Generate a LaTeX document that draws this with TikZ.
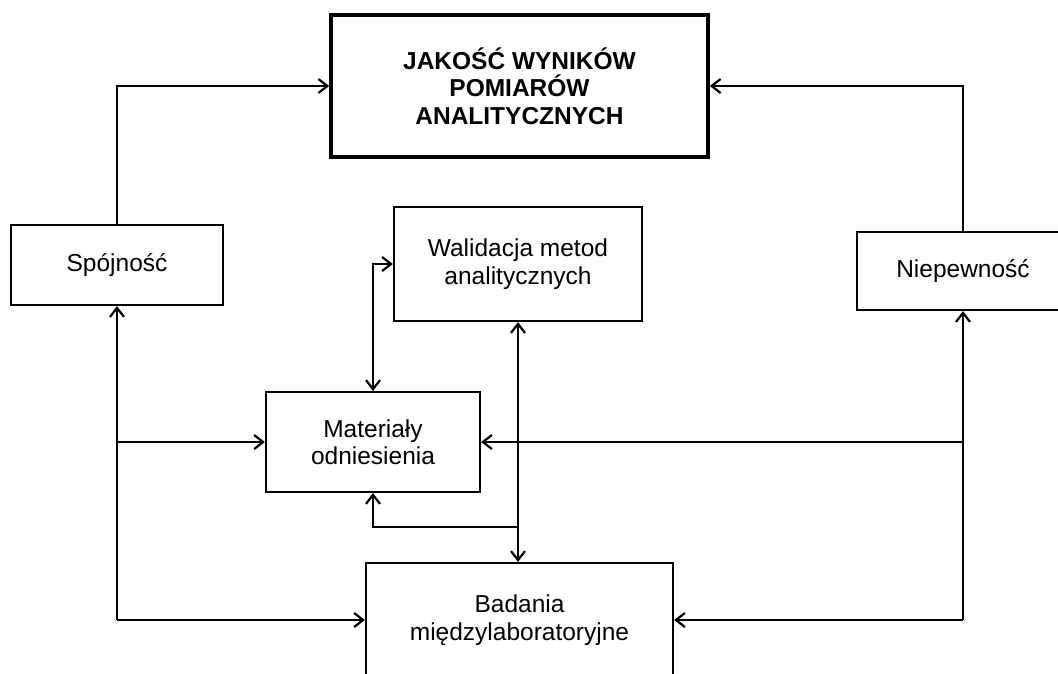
\documentclass[tikz,border=0pt]{standalone}
\usepackage{fontspec}
\setmainfont{Liberation Sans}
\usetikzlibrary{arrows.meta}

\tikzset{
  box/.style={draw, line width=2.2pt, rectangle, align=center, inner sep=0pt,
              font=\fontsize{24.5}{27.5}\selectfont},
  titlebox/.style={box, line width=3.6pt, font=\fontsize{24.5}{27.5}\selectfont\bfseries},
  link/.style={line width=2.2pt, -{Straight Barb[length=9pt,width=14pt,line width=2.2pt]}},
  twoway/.style={line width=2.2pt,
    {Straight Barb[length=9pt,width=14pt,line width=2.2pt]}-{Straight Barb[length=9pt,width=14pt,line width=2.2pt]}}
}

\begin{document}
\begin{tikzpicture}[x=1pt, y=-1pt]
  \useasboundingbox (0,0) rectangle (1058,673);
  \fill[white] (0,0) rectangle (1058,673);

  % boxes
  \node[titlebox, minimum width=377pt, minimum height=142pt] (jakosc) at (519.5,86)
    {JAKOŚĆ WYNIKÓW\\POMIARÓW\\ANALITYCZNYCH};
  \node[box, minimum width=212pt, minimum height=80pt] (spojnosc) at (117,265) {Spójność};
  \node[box, minimum width=212pt, minimum height=78pt] (niepewnosc) at (963,271) {Niepewność};
  \node[box, minimum width=248pt, minimum height=114pt] (walidacja) at (518,264)
    {Walidacja metod\\analitycznych};
  \node[box, minimum width=214pt, minimum height=100pt] (materialy) at (373,442)
    {Materiały\\odniesienia};
  \node[box, minimum width=307pt, minimum height=114pt] (badania) at (519.5,620)
    {Badania\\międzylaboratoryjne};

  % links to the quality box
  \draw[link] (spojnosc.north) |- (jakosc.west);
  \draw[link] (niepewnosc.north) |- (jakosc.east);

  % left trunk
  \coordinate (lbot) at (spojnosc.south |- badania.west);
  \coordinate (lmid) at (spojnosc.south |- materialy.west);
  \draw[link] (lbot) -- (spojnosc.south);
  \draw[link] (lbot) -- (badania.west);
  \draw[link] (lmid) -- (materialy.west);

  % right trunk
  \coordinate (rbot) at (niepewnosc.south |- badania.east);
  \coordinate (rmid) at (niepewnosc.south |- materialy.east);
  \draw[link] (rbot) -- (niepewnosc.south);
  \draw[link] (rbot) -- (badania.east);
  \draw[link] (rmid) -- (materialy.east);

  % validation <-> reference materials
  \draw[twoway] (materialy.north) |- (walidacja.west);

  % validation <-> interlaboratory studies, with branch to reference materials
  \coordinate (vbot) at (walidacja.south |- badania.north);
  \draw[twoway] (walidacja.south) -- (vbot);
  \coordinate (branch) at (walidacja.south |- 0,527);
  \draw[link] (branch) -| (materialy.south);
\end{tikzpicture}
\end{document}
